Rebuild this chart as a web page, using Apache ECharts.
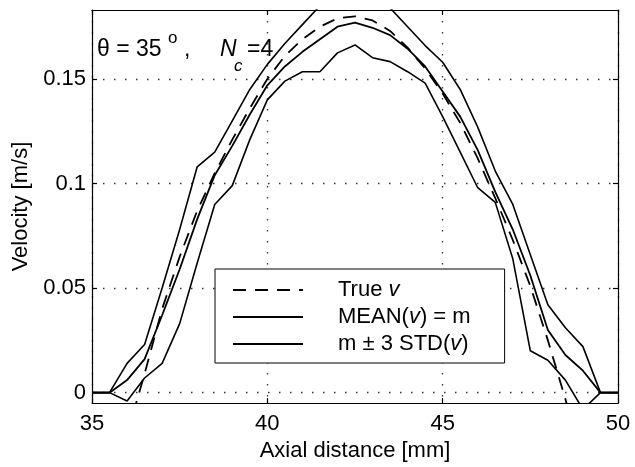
<!DOCTYPE html>
<html><head><meta charset="utf-8">
<script src="https://cdn.jsdelivr.net/npm/echarts@6/dist/echarts.min.js"></script>
<style>html,body{margin:0;padding:0;background:#fff}#c{width:635px;height:467px}</style>
</head><body><div id="c"></div>
<script>
// Axial positions [mm]
const xs = [35, 35.5, 36, 36.5, 37, 37.5, 38, 38.5, 39, 39.5, 40, 40.5, 41, 41.5, 42, 42.5, 43, 43.5, 44, 44.5, 45, 45.5, 46, 46.5, 47, 47.5, 48, 48.5, 49, 49.5, 50];
// True velocity (dashed)
const trueV = [-0.07, -0.045, -0.02, 0.009, 0.04, 0.065, 0.087, 0.105, 0.121, 0.136, 0.150, 0.161, 0.169, 0.175, 0.179, 0.180, 0.178, 0.173, 0.165, 0.155, 0.143, 0.129, 0.112, 0.093, 0.073, 0.051, 0.025, -0.003, -0.035, -0.07, -0.11];
// MEAN(v) = m
const meanV = [0, 0, 0.006, 0.016, 0.037, 0.059, 0.083, 0.104, 0.118, 0.133, 0.147, 0.156, 0.163, 0.169, 0.175, 0.177, 0.1745, 0.171, 0.1645, 0.156, 0.144, 0.132, 0.116, 0.096, 0.078, 0.056, 0.03, 0.018, 0.0105, 0, 0];
// m + 3 STD(v)
const upperV = [0, 0, 0.014, 0.023, 0.05, 0.078, 0.108, 0.115, 0.13, 0.145, 0.157, 0.167, 0.176, 0.185, 0.19, 0.192, 0.19, 0.184, 0.175, 0.166, 0.158, 0.145, 0.127, 0.106, 0.09, 0.066, 0.042, 0.031, 0.022, 0, 0];
// m - 3 STD(v)
const lowerV = [0, 0, -0.004, 0.007, 0.014, 0.033, 0.062, 0.09, 0.099, 0.121, 0.14, 0.149, 0.1535, 0.1535, 0.1625, 0.1663, 0.1602, 0.1583, 0.1535, 0.148, 0.132, 0.115, 0.098, 0.091, 0.064, 0.02, 0.0155, 0.006, -0.008, 0, 0];
// Tick labels
const yTicks = [0, 0.05, 0.1, 0.15];
const yTickLabels = ['0', '0.05', '0.1', '0.15'];
const xTickLabels = ['35', '40', '45', '50'];

const FONT = '"Liberation Sans", Arial, Helvetica, sans-serif';
const chart = echarts.init(document.getElementById('c'));
const pair = ys => xs.map((x, i) => [x, ys[i]]);
const dotted = { color: '#333', width: 1.3, type: [1.5, 9.5] };
const black = { color: '#000', width: 1.2 };

const legendText = {
  'true': '{g| }True {i|v}',
  'mean': '{g| }MEAN({i|v}) = m',
  'std': '{g| }m \u00b1 3 STD({i|v})'
};

const option = {
  animation: false,
  backgroundColor: '#fff',
  grid: { left: 92, right: 17, top: 10, bottom: 62 },
  xAxis: [
    {
      type: 'value', min: 35, max: 50, interval: 5, position: 'bottom',
      name: 'Axial distance [mm]', nameLocation: 'middle', nameGap: 31,
      nameTextStyle: { fontSize: 22, fontFamily: FONT, color: '#000' },
      axisLine: { show: true, onZero: false, lineStyle: black },
      axisTick: { show: true, inside: true, length: 5, lineStyle: black },
      axisLabel: { fontSize: 22, fontFamily: FONT, color: '#000', margin: 10,
        formatter: v => xTickLabels[Math.round((v - 35) / 5)] },
      splitLine: { show: true, lineStyle: dotted }
    },
    {
      type: 'value', min: 35, max: 50, interval: 5, position: 'top',
      axisLine: { show: true, onZero: false, lineStyle: black },
      axisTick: { show: true, inside: true, length: 5, lineStyle: black },
      axisLabel: { show: false }, splitLine: { show: false }
    }
  ],
  yAxis: [
    {
      type: 'value', min: -0.005, max: 0.183, position: 'left',
      name: 'Velocity [m/s]', nameLocation: 'middle', nameGap: 57, nameRotate: 90,
      nameTextStyle: { fontSize: 22, fontFamily: FONT, color: '#000' },
      axisLine: { show: true, onZero: false, lineStyle: black },
      axisTick: { show: true, inside: true, length: 5, lineStyle: black, customValues: yTicks },
      axisLabel: { fontSize: 22, fontFamily: FONT, color: '#000', margin: 6, customValues: yTicks,
        formatter: v => yTickLabels[yTicks.indexOf(v)] },
      splitLine: { show: true, lineStyle: dotted }
    },
    {
      type: 'value', min: -0.005, max: 0.183, position: 'right',
      axisLine: { show: true, onZero: false, lineStyle: black },
      axisTick: { show: true, inside: true, length: 5, lineStyle: black, customValues: yTicks },
      axisLabel: { show: false }, splitLine: { show: false }
    }
  ],
  legend: {
    data: ['true', 'mean', 'std'],
    orient: 'vertical', left: 215, top: 269,
    itemWidth: 70, itemHeight: 14, itemGap: 5,
    padding: [10, 34, 8, 17],
    backgroundColor: '#fff', borderColor: '#000', borderWidth: 1,
    selectedMode: false,
    itemStyle: { color: 'rgba(0,0,0,0)', opacity: 0, borderWidth: 0 },
    formatter: name => legendText[name],
    textStyle: {
      fontSize: 22, fontFamily: FONT, color: '#000', lineHeight: 20,
      rich: {
        g: { width: 30, fontSize: 22, fontFamily: FONT },
        i: { fontStyle: 'italic', fontSize: 22, fontFamily: FONT, color: '#000' }
      }
    }
  },
  graphic: [
    { type: 'text', x: 97, y: 50, z: 10, style: { text: '\u03b8 = 35', font: '23px ' + FONT, fill: '#000', verticalAlign: 'middle' } },
    { type: 'text', x: 168, y: 38, z: 10, style: { text: 'o', font: '17px ' + FONT, fill: '#000', verticalAlign: 'middle' } },
    { type: 'text', x: 184, y: 50, z: 10, style: { text: ',', font: '23px ' + FONT, fill: '#000', verticalAlign: 'middle' } },
    { type: 'text', x: 220, y: 50, z: 10, style: { text: 'N', font: 'italic 23px ' + FONT, fill: '#000', verticalAlign: 'middle' } },
    { type: 'text', x: 234, y: 66, z: 10, style: { text: 'c', font: 'italic 17px ' + FONT, fill: '#000', verticalAlign: 'middle' } },
    { type: 'text', x: 247, y: 50, z: 10, style: { text: '=4', font: '23px ' + FONT, fill: '#000', verticalAlign: 'middle' } }
  ],
  series: [
    { name: 'true', type: 'line', data: pair(trueV), symbol: 'none', clip: true,
      lineStyle: { color: '#000', width: 1.8, type: [13, 9] }, itemStyle: { color: '#000' } },
    { name: 'mean', type: 'line', data: pair(meanV), symbol: 'none', clip: true,
      lineStyle: { color: '#000', width: 1.8 }, itemStyle: { color: '#000' } },
    { name: 'std', type: 'line', data: pair(upperV), symbol: 'none', clip: true,
      lineStyle: { color: '#000', width: 1.6 }, itemStyle: { color: '#000' } },
    { name: 'std', type: 'line', data: pair(lowerV), symbol: 'none', clip: true,
      lineStyle: { color: '#000', width: 1.6 }, itemStyle: { color: '#000' } }
  ]
};
chart.setOption(option);
</script></body></html>
